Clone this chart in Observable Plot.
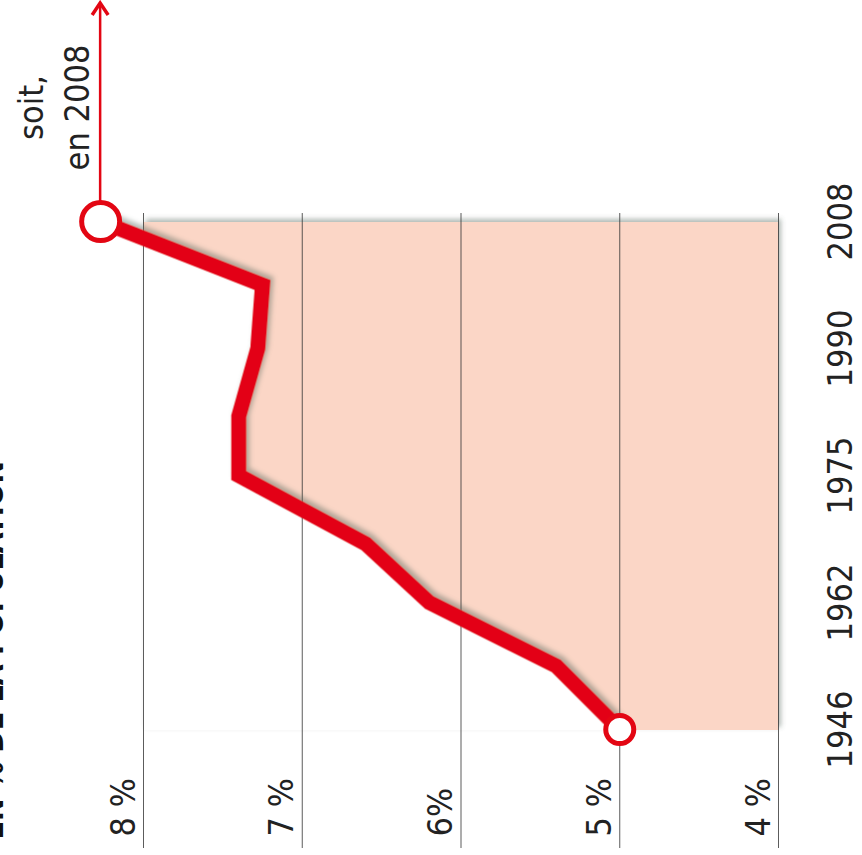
<!DOCTYPE html>
<html><head><meta charset="utf-8">
<script src="https://cdn.jsdelivr.net/npm/d3@7"></script>
<script src="https://cdn.jsdelivr.net/npm/@observablehq/plot@0.6"></script>
<style>
html,body{margin:0;padding:0;background:#fff;overflow:hidden;}
#stage{position:absolute;left:0;top:0;width:862px;height:855px;overflow:hidden;background:#fff;}
#chart{position:absolute;left:0;top:0;width:855px;height:862px;transform-origin:0 0;transform:translate(0,855px) rotate(-90deg);}
</style></head><body>
<div id="stage"><div id="chart"></div></div>
<script>
const years = [1946, 1954, 1962, 1968, 1975, 1982, 1990, 1999, 2008];
const shares = [5.0, 5.4, 6.2, 6.6, 7.4, 7.4, 7.28, 7.25, 8.27];
const yearTicks = [1946, 1962, 1975, 1990, 2008];
const pctTicks = [8, 7, 6, 5, 4];
const pctLabels = ["8 %", "7 %", "6%", "5 %", "4 %"];
const title = "EN % DE LA POPULATION";
const note = "soit,\nen 2008";

const RED = "#e30613";
const FONT = "'Liberation Sans Narrow', 'DejaVu Sans Condensed', 'Roboto', sans-serif";
const data = years.map((year, i) => ({year, share: shares[i]}));
const first = data[0], last = data[data.length - 1];
const pMax = d3.max(pctTicks), pMin = d3.min(pctTicks);
const ticks = pctTicks.map((p, i) => ({p, label: pctLabels[i]}));

const plot = Plot.plot({
  width: 855, height: 862,
  marginLeft: 125, marginRight: 222, marginTop: 143, marginBottom: 84,
  x: {type: "linear", domain: yearTicks, axis: null},
  y: {domain: [pMin, pMax], axis: null},
  style: {fontFamily: FONT, background: "white", overflow: "visible"},
  marks: [
    Plot.rect([{}], {x1: () => yearTicks[0], x2: () => yearTicks[yearTicks.length - 1], y1: () => pMin, y2: () => pMax, fill: "#fbd6c6"}),
    Plot.areaY(data, {x: "year", y1: "share", y2: () => pMax, fill: "white", clip: true}),
    Plot.ruleY(pctTicks, {y: d => d, insetLeft: -118, insetRight: -9, stroke: "#333", strokeOpacity: 0.8, strokeWidth: 1}),
    Plot.line(data, {x: "year", y: "share", stroke: RED, strokeWidth: 15, strokeLinejoin: "miter", strokeMiterlimit: 4}),
    Plot.dot([first], {x: "year", y: "share", r: 14, fill: "white", stroke: RED, strokeWidth: 5}),
    Plot.dot([last], {x: "year", y: "share", r: 19, fill: "white", stroke: RED, strokeWidth: 5}),
    Plot.text(yearTicks, {x: d => d, frameAnchor: "bottom", dy: 73, lineAnchor: "bottom", text: d => String(d), fontSize: 34, fill: "#222"}),
    Plot.text(ticks, {y: "p", text: "label", frameAnchor: "left", dx: -107, dy: -9, textAnchor: "start", lineAnchor: "bottom", fontSize: 34, fill: "#222"}),
    Plot.text([last], {x: "year", y: "share", text: () => note, dx: 114, dy: -12, textAnchor: "middle", lineAnchor: "bottom", lineHeight: 1.35, fontSize: 34, fill: "#222"}),
    Plot.text([title], {frameAnchor: "top-left", text: d => d, dx: -110, dy: -141, textAnchor: "start", lineAnchor: "bottom", fontSize: 30, fontWeight: "bold", fill: "#111"})
  ]
});

const svg = d3.select(plot);
const defs = svg.insert("defs", ":first-child");
defs.append("filter").attr("id", "sh").attr("x", "-10%").attr("y", "-10%").attr("width", "130%").attr("height", "130%")
  .append("feDropShadow").attr("dx", 3).attr("dy", 3).attr("stdDeviation", 2.5)
  .attr("flood-color", "#55665a").attr("flood-opacity", 0.45);
svg.selectAll('g[aria-label="rect"]').attr("filter", "url(#sh)");
svg.selectAll('g[aria-label="line"]').attr("filter", "url(#sh)");

// arrow from the 2008 point toward the edge
const sx = plot.scale("x"), sy = plot.scale("y");
const ax = sx.apply(last.year), ay = sy.apply(last.share);
const tip = 852;
const g = svg.insert("g", 'g[aria-label="dot"]').attr("fill", "none").attr("stroke", RED).attr("stroke-width", 2.5);
g.append("line").attr("x1", ax).attr("y1", ay).attr("x2", tip - 1).attr("y2", ay);
g.append("path").attr("d", `M${tip - 12},${ay - 8}L${tip},${ay}L${tip - 12},${ay + 8}`).attr("stroke-width", 3.5).attr("stroke-linejoin", "miter");

document.getElementById("chart").appendChild(plot);
</script>
</body></html>
